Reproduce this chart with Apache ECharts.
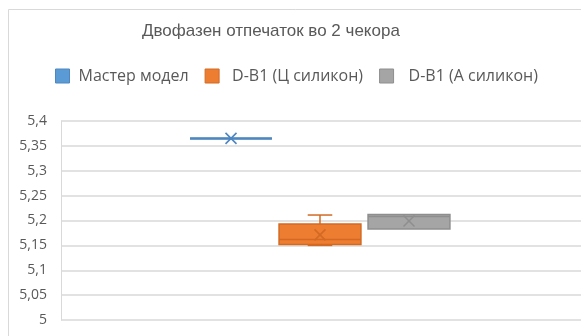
<!DOCTYPE html>
<html>
<head>
<meta charset="utf-8">
<script src="https://cdn.jsdelivr.net/npm/echarts@6/dist/echarts.min.js"></script>
<style>
  html, body { margin: 0; padding: 0; background: #fff; }
  #chart { width: 581px; height: 336px; }
</style>
</head>
<body>
<div id="chart"></div>
<script>
// Two-phase impression in 2 steps: box-and-whisker summary per group
const seriesNames = ['Мастер модел', 'D-B1 (Ц силикон)', 'D-B1 (А силикон)'];
const minValues    = [5.365, 5.150, 5.183];
const q1Values     = [5.365, 5.152, 5.183];
const medianValues = [5.365, 5.162, 5.208];
const q3Values     = [5.365, 5.193, 5.212];
const maxValues    = [5.365, 5.211, 5.213];
const meanValues   = [5.365, 5.171, 5.199];

const fillColors   = ['#5B9BD5', '#ED7D31', '#A5A5A5'];
const strokeColors = ['#4E86C0', '#D36A24', '#8E8E8E'];

const yMin = 5, yMax = 5.4, yStep = 0.05;
const titleText = 'Двофазен отпечаток во 2 чекора';

const chart = echarts.init(document.getElementById('chart'), null, { renderer: 'canvas' });

function boxRender(params, api) {
  const k = params.seriesIndex;
  const x = api.value(0);
  const fill = fillColors[k];
  const stroke = strokeColors[k];
  const pMin = api.coord([x, api.value(1)]);
  const pQ1 = api.coord([x, api.value(2)]);
  const pMed = api.coord([x, api.value(3)]);
  const pQ3 = api.coord([x, api.value(4)]);
  const pMax = api.coord([x, api.value(5)]);
  const pMean = api.coord([x, api.value(6)]);
  const boxW = api.size([0.92, 0])[0];
  const capW = boxW * 0.3;
  const cx = pQ1[0];
  const lineStyle = { stroke: stroke, lineWidth: 1.5 };
  const children = [];
  // whiskers
  if (pMax[1] < pQ3[1] - 0.5) {
    children.push({ type: 'line', shape: { x1: cx, y1: pQ3[1], x2: cx, y2: pMax[1] }, style: lineStyle });
    children.push({ type: 'line', shape: { x1: cx - capW / 2, y1: pMax[1], x2: cx + capW / 2, y2: pMax[1] }, style: lineStyle });
  }
  if (pMin[1] > pQ1[1] + 0.5) {
    children.push({ type: 'line', shape: { x1: cx, y1: pQ1[1], x2: cx, y2: pMin[1] }, style: lineStyle });
    children.push({ type: 'line', shape: { x1: cx - capW / 2, y1: pMin[1], x2: cx + capW / 2, y2: pMin[1] }, style: lineStyle });
  }
  // box
  children.push({
    type: 'rect',
    shape: { x: cx - boxW / 2, y: pQ3[1], width: boxW, height: pQ1[1] - pQ3[1] },
    style: { fill: fill, stroke: stroke, lineWidth: (pQ1[1] - pQ3[1]) < 1 ? 2.5 : 1.5 }
  });
  // median
  children.push({ type: 'line', shape: { x1: cx - boxW / 2, y1: pMed[1], x2: cx + boxW / 2, y2: pMed[1] }, style: lineStyle });
  // mean marker (cross)
  const m = 5.5;
  const crossStyle = { stroke: stroke, lineWidth: 1.6 };
  children.push({ type: 'line', shape: { x1: cx - m, y1: pMean[1] - m, x2: cx + m, y2: pMean[1] + m }, style: crossStyle });
  children.push({ type: 'line', shape: { x1: cx - m, y1: pMean[1] + m, x2: cx + m, y2: pMean[1] - m }, style: crossStyle });
  return { type: 'group', children: children };
}

const series = seriesNames.map(function (name, k) {
  return {
    name: name,
    type: 'custom',
    renderItem: boxRender,
    itemStyle: { color: fillColors[k] },
    encode: { x: 0, y: [1, 2, 3, 4, 5, 6] },
    data: [[k, minValues[k], q1Values[k], medianValues[k], q3Values[k], maxValues[k], meanValues[k]]],
    clip: false
  };
});

const plotLeft = 61, plotWidth = 520, groupSpacing = 89;
const legendTextGaps = [9, 13, 15];

chart.setOption({
  animation: false,
  backgroundColor: '#fff',
  title: {
    text: titleText,
    left: 137, top: 18,
    textStyle: { fontFamily: 'Liberation Sans', fontSize: 17, fontWeight: 'normal', color: '#595959' }
  },
  legend: {
    left: 50, top: 63,
    itemWidth: 14, itemHeight: 14, itemGap: 16,
    icon: 'rect',
    textStyle: { fontFamily: 'Open Sans', fontSize: 16, color: '#595959' },
    data: seriesNames.map(function (n, k) {
      return {
        name: n,
        itemStyle: { color: fillColors[k], borderColor: strokeColors[k], borderWidth: 1 },
        textStyle: { padding: [0, 0, 0, legendTextGaps[k] - 5] }
      };
    })
  },
  graphic: [{
    type: 'rect', silent: true, z: -1,
    shape: { x: 8.5, y: 9.5, width: 620, height: 400 },
    style: { fill: null, stroke: '#D9D9D9', lineWidth: 1 }
  }],
  grid: { left: plotLeft, top: 121, width: plotWidth, height: 199 },
  xAxis: {
    type: 'value', min: -1.91, max: -1.91 + plotWidth / groupSpacing,
    show: false
  },
  yAxis: {
    type: 'value', min: yMin, max: yMax, interval: yStep,
    axisLine: { show: true, onZero: false, lineStyle: { color: '#D9D9D9', width: 1 } },
    axisTick: { show: false },
    splitLine: { lineStyle: { color: '#D9D9D9', width: 1.5 } },
    axisLabel: {
      margin: 14,
      fontFamily: 'Open Sans', fontSize: 14, color: '#595959',
      formatter: function (v) { return String(Math.round(v * 100) / 100).replace('.', ','); }
    }
  },
  series: series
});
</script>
</body>
</html>
